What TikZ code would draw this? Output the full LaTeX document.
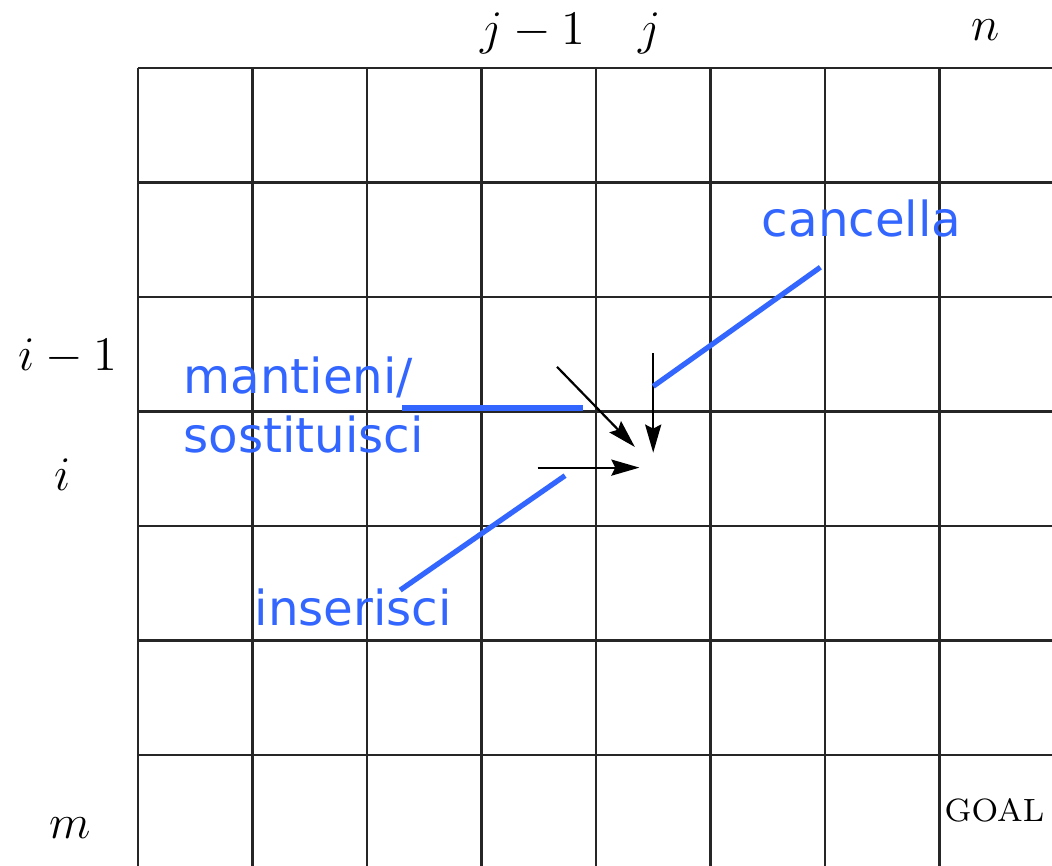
\documentclass[tikz,border=0pt]{standalone}
\usepackage{fontspec}
\newfontfamily\notefont{DejaVu Sans}
\usetikzlibrary{arrows.meta}
\definecolor{noteblue}{RGB}{51,102,255}

\begin{document}
\begin{tikzpicture}[
  gridline/.style={draw=black!85, line width=0.55pt},
  idx/.style={font=\fontsize{13}{15}\selectfont, inner sep=0pt},
  move/.style={-{Stealth[length=7pt, width=4pt, inset=1pt]}, line width=0.55pt},
  note/.style={font=\notefont\fontsize{12}{14.6}\selectfont, text=noteblue,
               inner sep=0pt, align=left},
  pointer/.style={draw=noteblue, line width=1.3pt},
]
\useasboundingbox (-1.205,-6.961) rectangle (7.983,0.594);

% Table
\draw[gridline, step=1] (0,-7) grid (8,0);

% Indices
\node[idx] (jm1) at (3.45,0.3) {$j-1$};
\node[idx] (jj) at (4.47,0.3) {$j$};
\node[idx] (nn) at (7.40,0.33) {$n$};
\node[idx] (im1) at (-0.61,-2.52) {$i-1$};
\node[idx] (ii) at (-0.66,-3.55) {$i$};
\node[idx] (mm) at (-0.59,-6.64) {$m$};
\node[font=\footnotesize, inner sep=0pt] (goal) at (7.48,-6.48) {GOAL};

% Moves into cell (i,j)
\coordinate (diag-from) at (3.66,-2.61);
\coordinate (diag-to) at (4.34,-3.31);
\coordinate (up-from) at (4.50,-2.49);
\coordinate (up-to) at (4.50,-3.36);
\coordinate (left-from) at (3.49,-3.49);
\coordinate (left-to) at (4.38,-3.49);
\draw[move] (diag-from) -- (diag-to);
\draw[move] (up-from) -- (up-to);
\draw[move] (left-from) -- (left-to);

% Annotations
\node[note, anchor=base] (cancella) at (6.32,-1.47) {cancella};
\node[note, anchor=west] (mantieni) at (0.39,-2.94) {mantieni/\\sostituisci};
\node[note, anchor=base] (inserisci) at (1.88,-4.87) {inserisci};

\coordinate (c-start) at (5.96,-1.74);
\coordinate (c-end) at (4.50,-2.78);
\coordinate (m-start) at (2.31,-2.97);
\coordinate (m-end) at (3.89,-2.97);
\coordinate (i-start) at (2.29,-4.56);
\coordinate (i-end) at (3.73,-3.56);
\draw[pointer] (c-start) -- (c-end);
\draw[pointer] (m-start) -- (m-end);
\draw[pointer] (i-start) -- (i-end);

\end{tikzpicture}
\end{document}
